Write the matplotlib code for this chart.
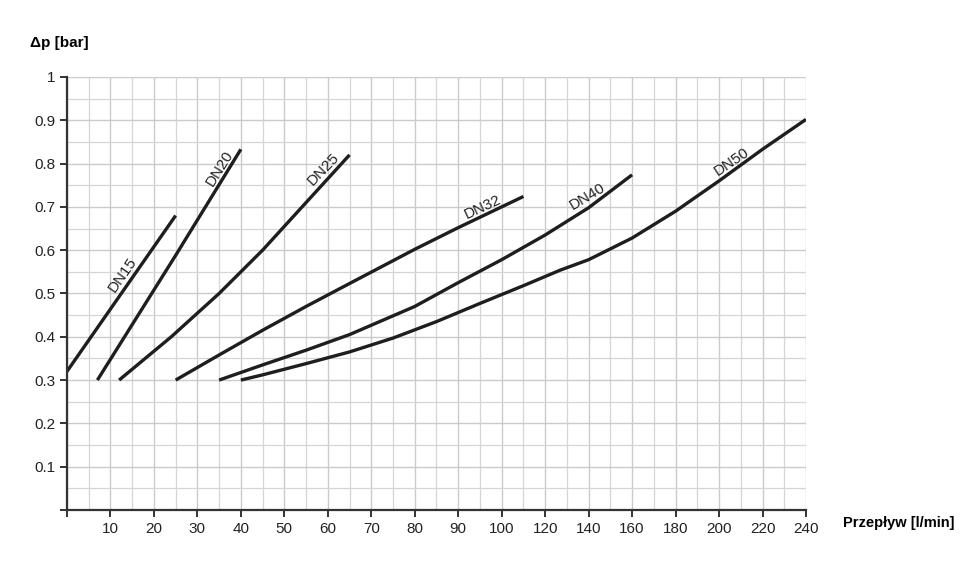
import numpy as np
import matplotlib
matplotlib.use('Agg')
import matplotlib.pyplot as plt

plt.rcParams['font.family'] = ['Liberation Sans', 'DejaVu Sans']

# x axis is not linear: 0-100 step 10, then 100-240 step 20 (equal spacing)
x_ticks = [0, 10, 20, 30, 40, 50, 60, 70, 80, 90, 100, 120, 140, 160, 180, 200, 220, 240]
x_minor = [5, 15, 25, 35, 45, 55, 65, 75, 85, 95, 110, 130, 150, 170, 190, 210, 230]
y_ticks = [0.1, 0.2, 0.3, 0.4, 0.5, 0.6, 0.7, 0.8, 0.9, 1.0]
y_minor = [0.05, 0.15, 0.25, 0.35, 0.45, 0.55, 0.65, 0.75, 0.85, 0.95]

# curves: flow [l/min], dp [bar]
dn15_q = [0, 25]
dn15_p = [0.32, 0.68]
dn20_q = [7, 25, 40]
dn20_p = [0.30, 0.588, 0.833]
dn25_q = [12, 24, 35, 45, 55, 65]
dn25_p = [0.30, 0.40, 0.50, 0.60, 0.71, 0.82]
dn32_q = [25, 35, 45, 55, 65, 80, 90, 100, 110]
dn32_p = [0.30, 0.358, 0.415, 0.47, 0.523, 0.602, 0.652, 0.70, 0.724]
dn40_q = [35, 45, 55, 65, 80, 90, 100, 120, 140, 160]
dn40_p = [0.30, 0.335, 0.369, 0.405, 0.47, 0.525, 0.578, 0.635, 0.698, 0.774]
dn50_q = [40, 45, 55, 65, 75, 85, 95, 110, 127, 140, 160, 180, 200, 220, 240]
dn50_p = [0.30, 0.312, 0.338, 0.365, 0.397, 0.435, 0.477, 0.518, 0.554, 0.578,
          0.628, 0.69, 0.76, 0.833, 0.902]

labels = ['DN15', 'DN20', 'DN25', 'DN32', 'DN40', 'DN50']
label_q = [12.8, 35.2, 58.9, 95.6, 139.6, 206]
label_p = [0.543, 0.79, 0.788, 0.699, 0.725, 0.803]
label_rot = [55, 58, 46, 25, 31, 34]

idx = np.arange(len(x_ticks))


def fwd(q):
    return np.interp(q, x_ticks, idx)


def inv(i):
    return np.interp(i, idx, x_ticks)


fig = plt.figure(figsize=(9.72, 5.88), dpi=100)
ax = fig.add_axes([0.0689, 0.1327, 0.7603, 0.7364])
ax.set_xscale('function', functions=(fwd, inv))
ax.set_xlim(0, 240)
ax.set_ylim(0, 1)

ax.set_xticks(x_ticks)
ax.set_xticklabels([''] + [str(v) for v in x_ticks[1:]])
ax.set_xticks(x_minor, minor=True)
ax.set_yticks([0] + y_ticks)
ax.set_yticklabels([''] + ['1' if v == 1 else f'{v:g}' for v in y_ticks])
ax.set_yticks(y_minor, minor=True)

ax.grid(True, which='major', color='#cbcbcb', linewidth=1.0)
ax.grid(True, which='minor', color='#d6d6d6', linewidth=0.9)
ax.set_axisbelow(True)

for s in ['top', 'right']:
    ax.spines[s].set_visible(False)
for s in ['left', 'bottom']:
    ax.spines[s].set_color('#333333')
    ax.spines[s].set_linewidth(1.6)
ax.tick_params(which='major', length=5, width=1.4, color='#333333',
               labelsize=11, labelcolor='#222222')
ax.tick_params(which='minor', length=0)

curves = [(dn15_q, dn15_p), (dn20_q, dn20_p), (dn25_q, dn25_p),
          (dn32_q, dn32_p), (dn40_q, dn40_p), (dn50_q, dn50_p)]
for q, p in curves:
    ax.plot(q, p, color='#1e1e1e', linewidth=2.4, solid_capstyle='butt',
            solid_joinstyle='round')

for name, q, p, r in zip(labels, label_q, label_p, label_rot):
    ax.text(q, p, name, rotation=r, fontsize=11, color='#222222',
            ha='center', va='center', rotation_mode='anchor')

fig.text(0.031, 0.927, 'Δp [bar]', fontsize=11, fontweight='bold', va='center')
fig.text(0.867, 0.110, 'Przepływ [l/min]', fontsize=10.5, fontweight='bold', va='center')

fig.savefig('out.png', dpi=100)
